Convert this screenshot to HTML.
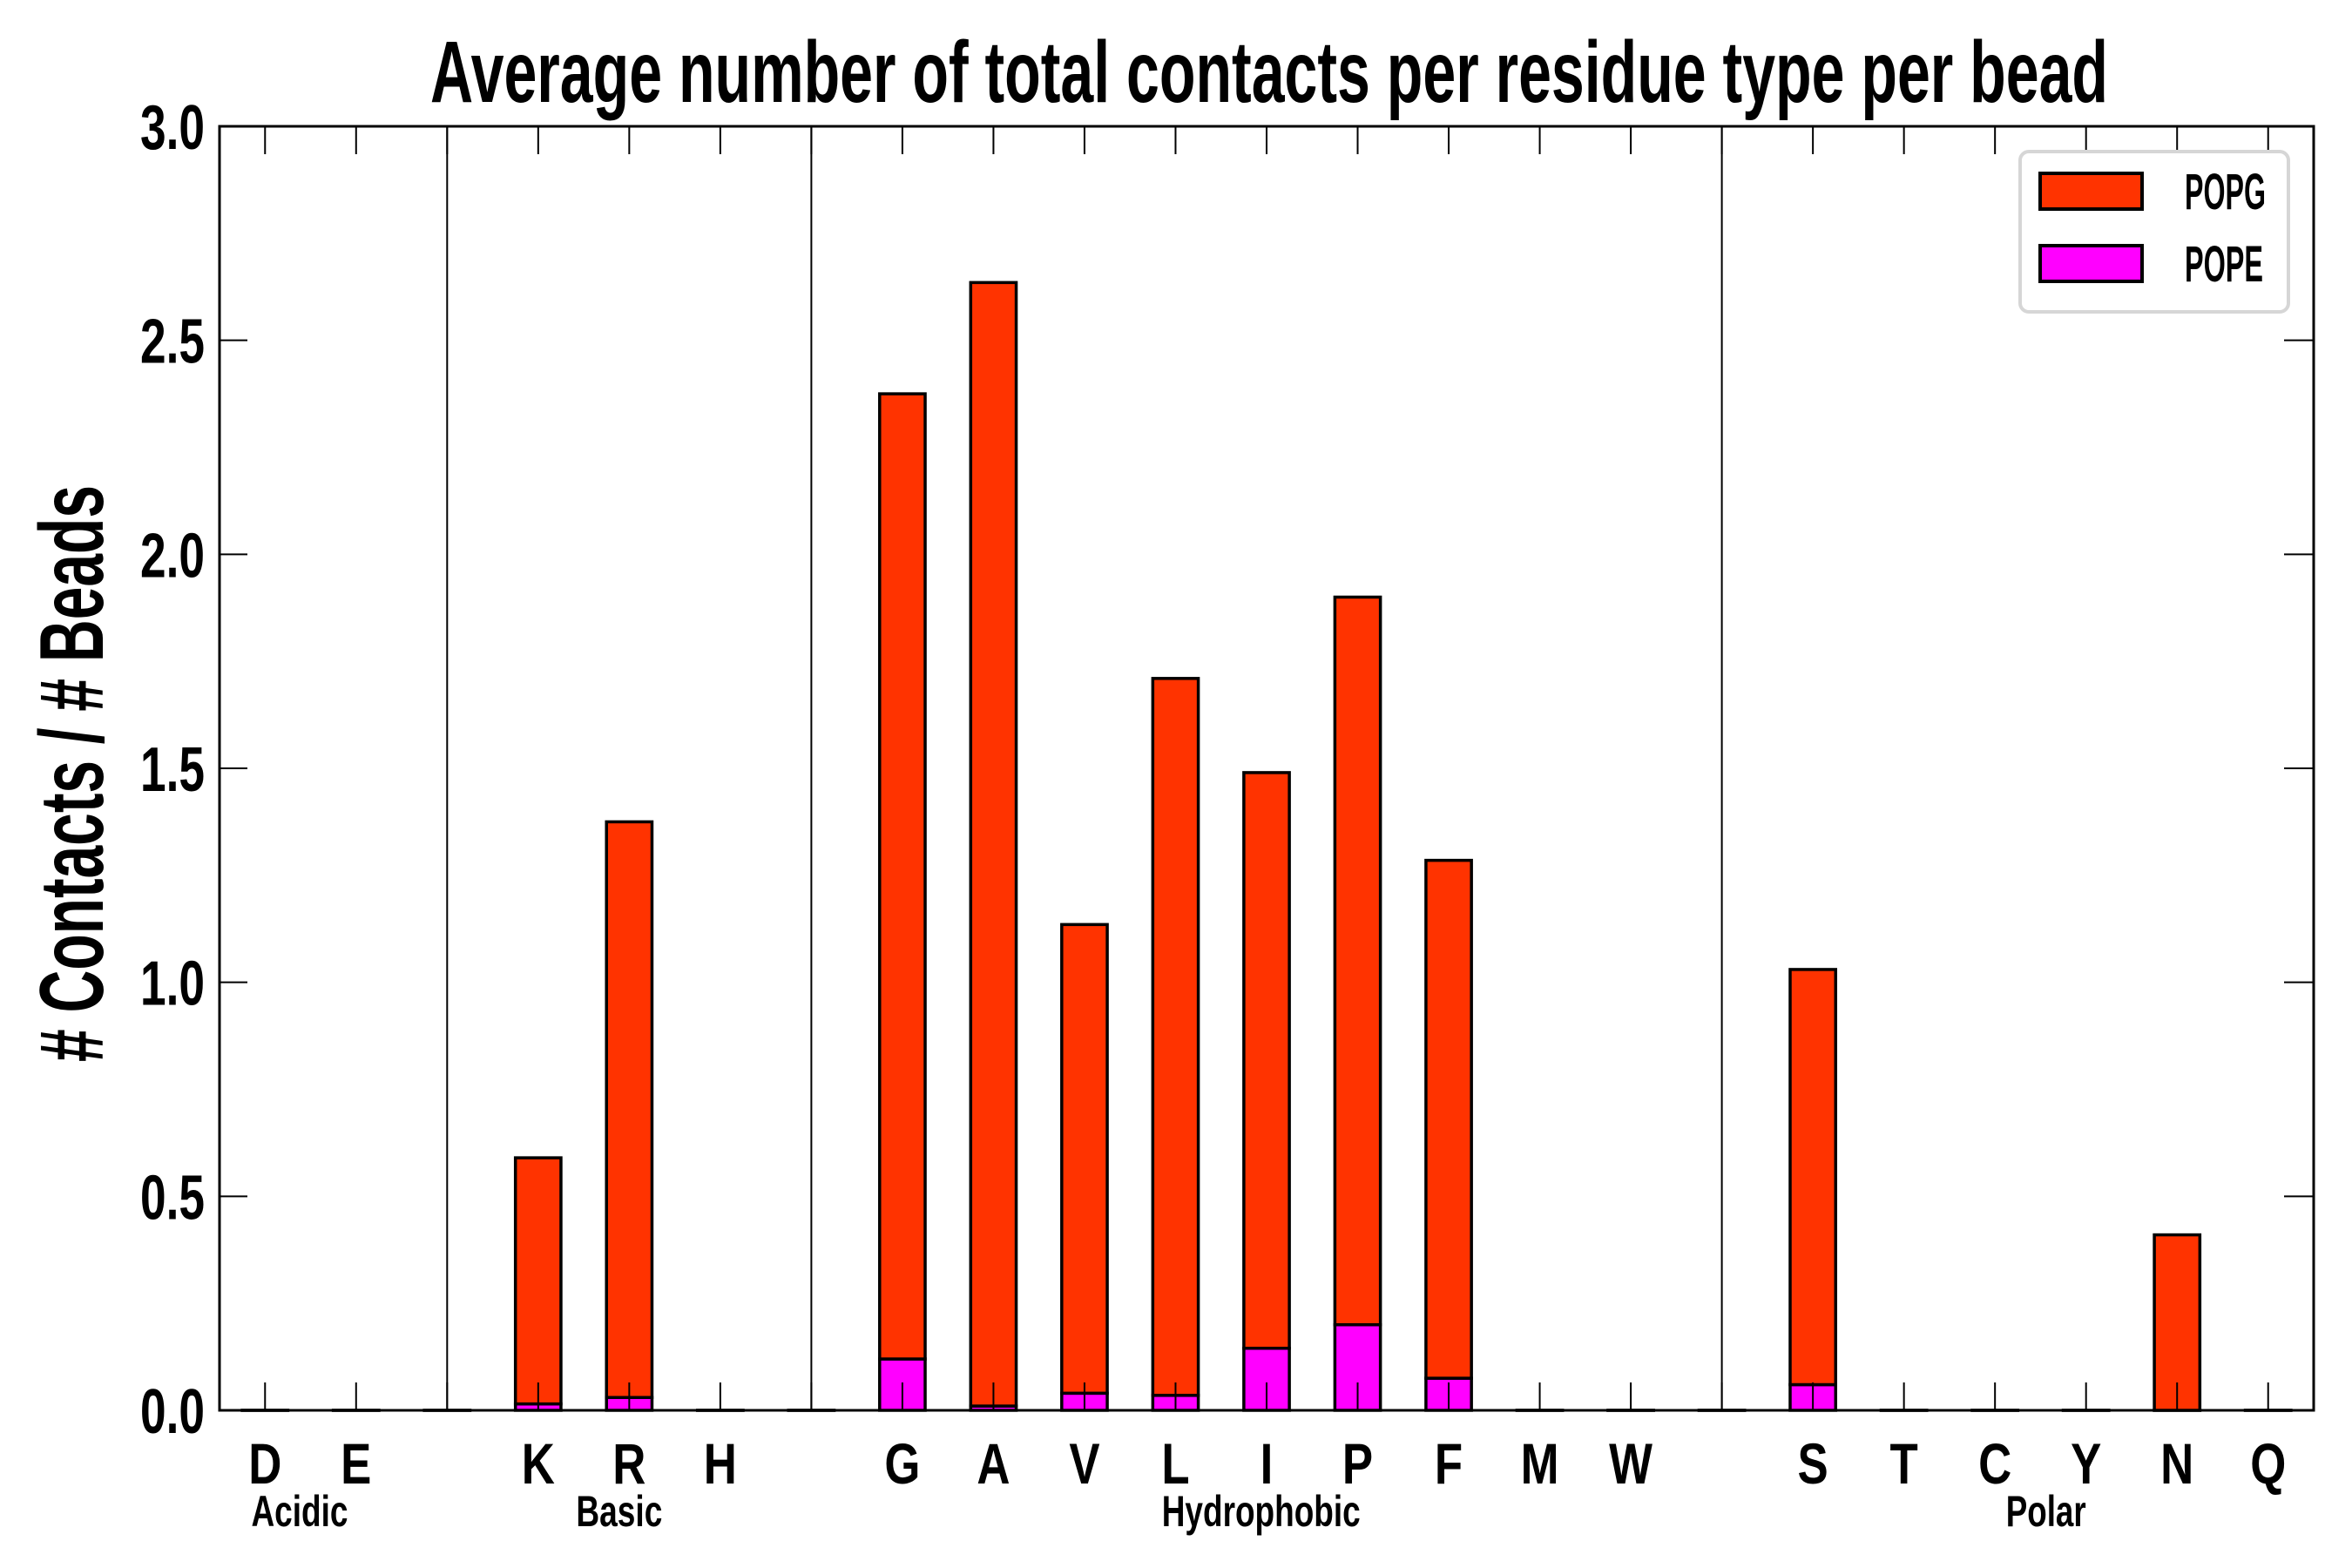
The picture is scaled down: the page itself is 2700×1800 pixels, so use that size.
<!DOCTYPE html>
<html><head><meta charset="utf-8"><style>
html,body{margin:0;padding:0;background:#fff;}
svg{display:block;}
text{font-family:"Liberation Sans",sans-serif;font-weight:bold;fill:#000;}
</style></head><body>
<svg id="chart" width="2700" height="1800" viewBox="0 0 2700 1800" xmlns="http://www.w3.org/2000/svg">
<rect x="0" y="0" width="2700" height="1800" fill="#fff"/>
<g id="plot"></g>
</svg>
<script>
const categories = ["D","E","","K","R","H","","G","A","V","L","I","P","F","M","W","","S","T","C","Y","N","Q"];
const totalValues = [0,0,0,0.59,1.375,0,0,2.375,2.635,1.135,1.71,1.49,1.90,1.285,0,0,0,1.03,0,0,0,0.41,0];
const popeValues = [0,0,0,0.015,0.03,0,0,0.12,0.01,0.04,0.035,0.145,0.20,0.075,0,0,0,0.06,0,0,0,0,0];
const yTicks = [0,0.5,1,1.5,2,2.5,3];
const yTickLabels = ["0.0","0.5","1.0","1.5","2.0","2.5","3.0"];
const groupNames = ["Acidic","Basic","Hydrophobic","Polar"];
const groupCenters = [0.38,3.89,10.94,19.56];
const dividers = [2,6,16];

const L=252,R=2656,T=145,B=1619;
const xMin=-0.5,xMax=22.5,yMax=3;
const xs=v=>L+(v-xMin)/(xMax-xMin)*(R-L);
const ys=v=>B-v/yMax*(B-T);
const NS="http://www.w3.org/2000/svg";
const g=document.getElementById('plot');
function mk(tag,attrs,parent){const e=document.createElementNS(NS,tag);for(const k in attrs)e.setAttribute(k,attrs[k]);(parent||g).appendChild(e);return e;}
function txt(s,attrs){const e=mk('text',attrs);e.textContent=s;return e;}
const bw=(R-L)/(xMax-xMin)*0.5;
const groupWidths=[111,99,228,92];

dividers.forEach(d=>{
  const l=mk('line',{x1:xs(d),x2:xs(d),y1:T,y2:B,stroke:'#000','stroke-width':2});
  
  
});

categories.forEach((c,i)=>{
  const pope=popeValues[i], popg=totalValues[i]-popeValues[i];
  const x=xs(i)-bw/2;
  const r1=mk('rect',{x:x,y:ys(pope),width:bw,height:Math.max(ys(0)-ys(pope),0.01),fill:'#ff00ff',stroke:'#000','stroke-width':3.5});
  
  
  const r2=mk('rect',{x:x,y:ys(pope+popg),width:bw,height:Math.max(ys(pope)-ys(pope+popg),0.01),fill:'#ff3300',stroke:'#000','stroke-width':3.5});
  
  
});

categories.forEach((c,i)=>{
  mk('line',{x1:xs(i),x2:xs(i),y1:T,y2:T+32,stroke:'#000','stroke-width':2});
  mk('line',{x1:xs(i),x2:xs(i),y1:B,y2:B-32,stroke:'#000','stroke-width':2});
  if(c){
    const t=txt(c,{x:xs(i),y:1703,'font-size':66,'text-anchor':'middle',transform:`translate(${xs(i)},0) scale(0.8,1) translate(${-xs(i)},0)`});
    
    
  }
});

yTicks.forEach((v,i)=>{
  mk('line',{x1:L,x2:L+32,y1:ys(v),y2:ys(v),stroke:'#000','stroke-width':2});
  mk('line',{x1:R,x2:R-34,y1:ys(v),y2:ys(v),stroke:'#000','stroke-width':2});
  const t=txt(yTickLabels[i],{x:235,y:ys(v)+26,'font-size':72,'text-anchor':'end',textLength:74,lengthAdjust:'spacingAndGlyphs'});
  
  
});

groupNames.forEach((n,i)=>{
  const cx=xs(groupCenters[i]);
  const t=txt(n,{x:cx-groupWidths[i]/2,y:1752,'font-size':50,textLength:groupWidths[i],lengthAdjust:'spacingAndGlyphs'});
  
  
});

const fr=mk('rect',{x:L,y:T,width:R-L,height:B-T,fill:'none',stroke:'#000','stroke-width':3});



const title=txt('Average number of total contacts per residue type per bead',{x:1457,y:117,'font-size':100,'text-anchor':'middle',textLength:1926,lengthAdjust:'spacingAndGlyphs'});



const yl=txt('# Contacts / # Beads',{x:0,y:0,'font-size':104,'text-anchor':'middle',textLength:662,lengthAdjust:'spacingAndGlyphs',transform:'translate(118,888) rotate(-90)'});



const lg=mk('g',{});


mk('rect',{x:2319,y:174,width:308,height:184,rx:10,fill:'#fff',stroke:'#d6d6d6','stroke-width':4},lg);
const e1=mk('rect',{x:2342,y:199,width:117,height:41,fill:'#ff3300',stroke:'#000','stroke-width':4},lg);


const e2=mk('rect',{x:2342,y:282,width:117,height:41,fill:'#ff00ff',stroke:'#000','stroke-width':4},lg);


const t1=txt('POPG',{x:2508,y:240,'font-size':58,textLength:93,lengthAdjust:'spacingAndGlyphs'});


const t2=txt('POPE',{x:2508,y:323,'font-size':58,textLength:90,lengthAdjust:'spacingAndGlyphs'});


lg.appendChild(t1);lg.appendChild(t2);
</script>
</body></html>
